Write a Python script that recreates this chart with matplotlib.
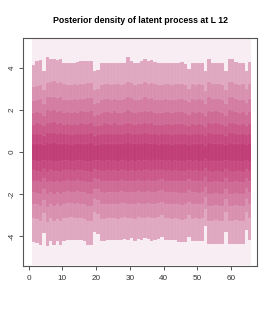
import numpy as np
import matplotlib
matplotlib.use("Agg")
import matplotlib.pyplot as plt

plt.rcParams['font.family'] = ['Liberation Sans', 'DejaVu Sans']

# time index of each column (left edge), 65 columns from 1 to 66
cols = np.arange(1, 66)

# extent of the density grid
grid_lo, grid_hi = -5.38, 5.38

# upper band limits, outer -> inner
up1 = [4.16, 4.35, 4.40, 3.87, 4.54, 4.43, 4.43, 4.40, 4.42, 4.24, 4.24, 4.23, 4.26, 4.27, 4.32, 4.33,
       4.32, 4.35, 3.87, 3.92, 4.24, 4.26, 4.24, 4.24, 4.26, 4.24, 4.23, 4.26, 4.51, 4.35, 4.24, 4.23,
       4.32, 4.43, 4.32, 4.37, 4.27, 4.24, 4.24, 4.23, 4.24, 4.23, 4.24, 4.26, 4.27, 4.21, 3.96, 4.24,
       4.24, 4.24, 4.23, 3.86, 4.43, 4.24, 4.24, 4.24, 4.24, 3.84, 4.43, 4.43, 4.27, 4.24, 4.24, 3.87, 4.27]
up2 = [3.10, 3.14, 3.20, 2.95, 3.30, 3.36, 3.38, 3.30, 3.34, 3.22, 3.20, 3.18, 3.24, 3.20, 3.26, 3.22,
       3.28, 3.30, 2.96, 3.00, 3.18, 3.22, 3.24, 3.20, 3.26, 3.22, 3.18, 3.24, 3.34, 3.28, 3.20, 3.22,
       3.26, 3.32, 3.24, 3.28, 3.22, 3.18, 3.20, 3.24, 3.22, 3.18, 3.22, 3.26, 3.24, 3.20, 3.02, 3.22,
       3.20, 3.24, 3.20, 2.92, 3.34, 3.22, 3.26, 3.24, 3.20, 2.94, 3.36, 3.32, 3.24, 3.20, 3.22, 2.98, 3.24]
up3 = [2.44, 2.48, 2.52, 2.30, 2.60, 2.62, 2.64, 2.58, 2.60, 2.50, 2.50, 2.46, 2.52, 2.48, 2.54, 2.52,
       2.56, 2.58, 2.30, 2.34, 2.48, 2.52, 2.54, 2.50, 2.54, 2.50, 2.48, 2.52, 2.62, 2.56, 2.50, 2.50,
       2.54, 2.60, 2.52, 2.56, 2.50, 2.46, 2.50, 2.52, 2.50, 2.48, 2.50, 2.54, 2.52, 2.50, 2.36, 2.52,
       2.48, 2.52, 2.50, 2.28, 2.60, 2.52, 2.54, 2.52, 2.48, 2.30, 2.62, 2.60, 2.52, 2.50, 2.50, 2.32, 2.52]
up4 = [1.86, 1.92, 1.88, 1.74, 1.98, 1.96, 2.00, 1.92, 1.96, 1.88, 1.90, 1.84, 1.92, 1.86, 1.94, 1.90,
       1.92, 1.96, 1.74, 1.78, 1.86, 1.92, 1.90, 1.88, 1.94, 1.88, 1.86, 1.92, 1.98, 1.92, 1.88, 1.90,
       1.92, 1.96, 1.90, 1.94, 1.88, 1.86, 1.88, 1.92, 1.90, 1.84, 1.90, 1.92, 1.90, 1.88, 1.78, 1.90,
       1.86, 1.92, 1.88, 1.72, 1.96, 1.90, 1.94, 1.90, 1.86, 1.74, 1.98, 1.96, 1.90, 1.88, 1.90, 1.76, 1.92]
up5 = [1.30, 1.36, 1.32, 1.22, 1.40, 1.38, 1.42, 1.34, 1.38, 1.30, 1.34, 1.28, 1.34, 1.30, 1.36, 1.32,
       1.34, 1.38, 1.22, 1.24, 1.30, 1.36, 1.32, 1.30, 1.36, 1.30, 1.30, 1.34, 1.40, 1.34, 1.30, 1.34,
       1.34, 1.38, 1.32, 1.36, 1.30, 1.28, 1.30, 1.34, 1.32, 1.28, 1.32, 1.34, 1.32, 1.30, 1.24, 1.32,
       1.30, 1.34, 1.30, 1.20, 1.38, 1.32, 1.36, 1.32, 1.30, 1.22, 1.40, 1.38, 1.32, 1.30, 1.32, 1.24, 1.34]
up6 = [0.84, 0.88, 0.86, 0.78, 0.92, 0.90, 0.92, 0.86, 0.90, 0.84, 0.88, 0.82, 0.88, 0.84, 0.88, 0.86,
       0.86, 0.90, 0.78, 0.80, 0.84, 0.88, 0.86, 0.84, 0.88, 0.84, 0.84, 0.88, 0.92, 0.86, 0.84, 0.88,
       0.86, 0.90, 0.86, 0.88, 0.84, 0.82, 0.84, 0.88, 0.86, 0.82, 0.86, 0.88, 0.86, 0.84, 0.80, 0.86,
       0.84, 0.88, 0.84, 0.76, 0.90, 0.86, 0.88, 0.86, 0.84, 0.78, 0.92, 0.90, 0.86, 0.84, 0.86, 0.80, 0.88]
up7 = [0.36, 0.40, 0.38, 0.32, 0.42, 0.40, 0.44, 0.38, 0.40, 0.36, 0.40, 0.34, 0.38, 0.36, 0.40, 0.38,
       0.38, 0.42, 0.32, 0.34, 0.36, 0.40, 0.38, 0.36, 0.40, 0.36, 0.36, 0.40, 0.42, 0.38, 0.36, 0.40,
       0.38, 0.42, 0.38, 0.40, 0.36, 0.34, 0.36, 0.40, 0.38, 0.34, 0.38, 0.40, 0.38, 0.36, 0.34, 0.38,
       0.36, 0.40, 0.36, 0.30, 0.42, 0.38, 0.40, 0.38, 0.36, 0.32, 0.42, 0.40, 0.38, 0.36, 0.38, 0.34, 0.40]

# lower band limits, outer -> inner
lo1 = [-4.27, -4.32, -4.43, -3.87, -4.48, -4.22, -4.43, -4.24, -4.43, -4.24, -4.19, -4.19, -4.19, -4.19, -4.19, -4.24,
       -4.43, -4.43, -3.79, -3.90, -4.24, -4.26, -4.19, -4.19, -4.19, -4.19, -4.19, -4.15, -4.19, -4.12, -4.22, -4.15,
       -4.19, -4.12, -4.15, -4.22, -4.19, -4.15, -4.03, -4.19, -4.19, -4.19, -4.19, -4.27, -4.27, -4.27, -4.03, -4.22,
       -4.22, -4.22, -4.22, -3.55, -4.38, -4.38, -4.38, -4.38, -4.38, -3.79, -4.38, -4.38, -4.38, -4.38, -4.38, -3.71, -4.19]
lo2 = [-3.16, -3.20, -3.30, -2.92, -3.34, -3.14, -3.30, -3.18, -3.30, -3.16, -3.14, -3.12, -3.16, -3.14, -3.16, -3.18,
       -3.30, -3.30, -2.88, -2.94, -3.18, -3.20, -3.14, -3.16, -3.14, -3.18, -3.14, -3.12, -3.16, -3.14, -3.18, -3.12,
       -3.16, -3.14, -3.12, -3.16, -3.14, -3.12, -3.02, -3.16, -3.14, -3.18, -3.14, -3.20, -3.22, -3.20, -3.02, -3.18,
       -3.16, -3.18, -3.16, -2.70, -3.28, -3.30, -3.26, -3.28, -3.30, -2.88, -3.28, -3.30, -3.26, -3.28, -3.30, -2.84, -3.16]
lo3 = [-2.46, -2.50, -2.58, -2.28, -2.60, -2.46, -2.58, -2.48, -2.58, -2.46, -2.44, -2.44, -2.48, -2.44, -2.46, -2.48,
       -2.56, -2.58, -2.26, -2.30, -2.48, -2.50, -2.46, -2.48, -2.46, -2.48, -2.44, -2.44, -2.48, -2.46, -2.48, -2.44,
       -2.48, -2.46, -2.44, -2.48, -2.46, -2.44, -2.36, -2.48, -2.46, -2.48, -2.46, -2.50, -2.52, -2.50, -2.36, -2.48,
       -2.46, -2.50, -2.48, -2.14, -2.56, -2.58, -2.54, -2.56, -2.58, -2.26, -2.56, -2.58, -2.54, -2.56, -2.58, -2.22, -2.48]
lo4 = [-1.90, -1.94, -2.00, -1.76, -2.02, -1.90, -1.98, -1.92, -2.00, -1.90, -1.88, -1.90, -1.92, -1.88, -1.90, -1.92,
       -1.98, -2.00, -1.74, -1.78, -1.92, -1.94, -1.90, -1.92, -1.90, -1.92, -1.88, -1.90, -1.92, -1.90, -1.92, -1.88,
       -1.92, -1.90, -1.88, -1.92, -1.90, -1.88, -1.82, -1.92, -1.90, -1.92, -1.90, -1.94, -1.96, -1.94, -1.82, -1.92,
       -1.90, -1.94, -1.92, -1.66, -1.98, -2.00, -1.96, -1.98, -2.00, -1.74, -1.98, -2.00, -1.96, -1.98, -2.00, -1.72, -1.92]
lo5 = [-1.36, -1.40, -1.44, -1.26, -1.44, -1.36, -1.42, -1.38, -1.44, -1.36, -1.34, -1.36, -1.38, -1.34, -1.36, -1.38,
       -1.42, -1.44, -1.24, -1.28, -1.38, -1.40, -1.36, -1.38, -1.36, -1.38, -1.34, -1.36, -1.38, -1.36, -1.38, -1.34,
       -1.38, -1.36, -1.34, -1.38, -1.36, -1.34, -1.30, -1.38, -1.36, -1.38, -1.36, -1.40, -1.40, -1.40, -1.30, -1.38,
       -1.36, -1.40, -1.38, -1.18, -1.42, -1.44, -1.40, -1.42, -1.44, -1.24, -1.42, -1.44, -1.40, -1.42, -1.44, -1.24, -1.38]
lo6 = [-0.88, -0.92, -0.94, -0.82, -0.94, -0.88, -0.92, -0.90, -0.94, -0.88, -0.86, -0.88, -0.90, -0.86, -0.88, -0.90,
       -0.92, -0.94, -0.80, -0.84, -0.90, -0.92, -0.88, -0.90, -0.88, -0.90, -0.86, -0.88, -0.90, -0.88, -0.90, -0.86,
       -0.90, -0.88, -0.86, -0.90, -0.88, -0.86, -0.84, -0.90, -0.88, -0.90, -0.88, -0.92, -0.92, -0.92, -0.84, -0.90,
       -0.88, -0.92, -0.90, -0.76, -0.92, -0.94, -0.92, -0.92, -0.94, -0.80, -0.92, -0.94, -0.92, -0.92, -0.94, -0.80, -0.90]
lo7 = [-0.40, -0.44, -0.44, -0.38, -0.44, -0.40, -0.44, -0.42, -0.44, -0.40, -0.40, -0.42, -0.42, -0.40, -0.40, -0.42,
       -0.44, -0.44, -0.36, -0.38, -0.42, -0.44, -0.40, -0.42, -0.40, -0.42, -0.40, -0.40, -0.42, -0.40, -0.42, -0.40,
       -0.42, -0.40, -0.40, -0.42, -0.40, -0.40, -0.38, -0.42, -0.40, -0.42, -0.40, -0.44, -0.44, -0.44, -0.38, -0.42,
       -0.40, -0.44, -0.42, -0.34, -0.44, -0.44, -0.42, -0.44, -0.44, -0.36, -0.44, -0.44, -0.42, -0.44, -0.44, -0.36, -0.42]

x_ticks = [0, 10, 20, 30, 40, 50, 60]
y_ticks = [-4, -2, 0, 2, 4]

bg_col = '#F8EDF2'
band_cols = ['#E0A8C0', '#D990AF', '#D47CA2', '#CF6A95', '#CA5889', '#C5497F', '#C03D75']
seam = (1, 1, 1, 0.12)

fig = plt.figure(figsize=(2.75, 3.14), dpi=100)
ax = fig.add_axes([0.0847, 0.1538, 0.8498, 0.7242])

# pale background of the density grid
ax.bar(cols, grid_hi - grid_lo, bottom=grid_lo, width=1, align='edge', color=bg_col,
       edgecolor=seam, linewidth=0.25)

uppers = [up1, up2, up3, up4, up5, up6, up7]
lowers = [lo1, lo2, lo3, lo4, lo5, lo6, lo7]
for up, lo, c in zip(uppers, lowers, band_cols):
    up = np.array(up)
    lo = np.array(lo)
    ax.bar(cols, up - lo, bottom=lo, width=1, align='edge', color=c, edgecolor=seam, linewidth=0.25)

ax.set_xlim(-1.6, 67.7)
ax.set_ylim(-5.42, 5.42)
ax.set_xticks(x_ticks)
ax.set_yticks(y_ticks)
ax.set_yticklabels([str(v) for v in y_ticks], rotation=90, va='center')
ax.tick_params(axis='both', length=3, width=0.7, color='#555555', labelsize=5.9,
               labelcolor='#333333')
ax.tick_params(axis='x', pad=3.5)
ax.tick_params(axis='y', pad=2.5)
for s in ax.spines.values():
    s.set_color('#555555')
    s.set_linewidth(0.8)

ax.set_title('Posterior density of latent process at L 12', fontsize=6.3, fontweight='bold', pad=11)

fig.savefig('out.png', dpi=100)
